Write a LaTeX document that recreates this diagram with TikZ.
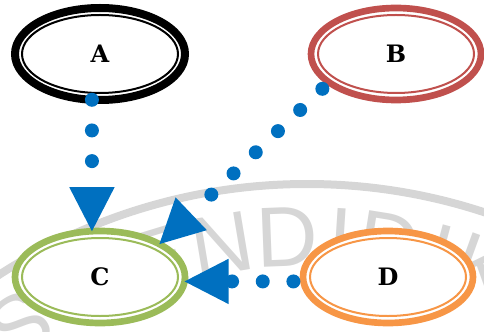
\documentclass[tikz,border=0pt]{standalone}
\usepackage{fontspec}
\usepackage{xcolor}
\usepackage{tikz}
\usetikzlibrary{arrows.meta,positioning,shapes.geometric}

\newfontfamily\wmfont{Liberation Sans}
\newfontfamily\statefont{DejaVu Serif}

\definecolor{linkblue}{HTML}{0070C0}
\definecolor{stateRed}{HTML}{C0504D}
\definecolor{stateGreen}{HTML}{9BBB59}
\definecolor{stateOrange}{HTML}{F79646}
\definecolor{wmgray}{HTML}{D6D6D6}

\begin{document}
\begin{tikzpicture}[
  x=0.75pt, y=-0.75pt,
  state/.style={ellipse, draw=#1, fill=white, line width=5pt, outer sep=0pt,
                minimum width=127.5pt, minimum height=69pt,
                font=\statefont\fontsize{18}{18}\selectfont\bfseries},
  ring/.style={draw=#1, line width=1.5pt},
  link/.style={draw=linkblue, line width=10.5pt, line cap=round,
               dash pattern=on 0pt off 23pt,
               -{Triangle[length=33pt, width=34pt, line width=0pt]}},
  wm/.style={wmgray}
]
\useasboundingbox (0,0) rectangle (484,331);
\clip (0,0) rectangle (484,331);

% faint lettering on an arc, behind everything
\coordinate (wc) at (307,751);
\draw[wm, line width=6pt] (wc) circle [radius=567];
\foreach \a/\l [count=\i] in {-34/S, -25/P, -17/E, -9.5/N, -2.2/D, 3.7/I, 9.1/D, 15/I, 20/K}
  \path (wc) ++(-90+\a:514)
    node[wm, font=\wmfont\fontsize{64}{64}\selectfont, rotate=-\a] (wm\i) {\l};

% the four states
\node[state=black, line width=6pt] (A) at (100,54) {A};
\node[state=stateRed, right=94.5pt of A] (B) {B};
\node[state=stateGreen, below=98.25pt of A] (C) {C};
\node[state=stateOrange, right=88.5pt of C] (D) {D};

% thin inner line of each state
\foreach \n/\c in {A/black, B/stateRed, C/stateGreen, D/stateOrange}
  \draw[ring=\c] (\n.center) ellipse [x radius=78, y radius=39];

% dotted links into C
\draw[link] (A.260) -- (C.100);
\draw[link, dash phase=16pt] (B.203) -- (C.29);
\draw[link, dash phase=15.5pt] (D.183) -- (C.-3);
\end{tikzpicture}
\end{document}
